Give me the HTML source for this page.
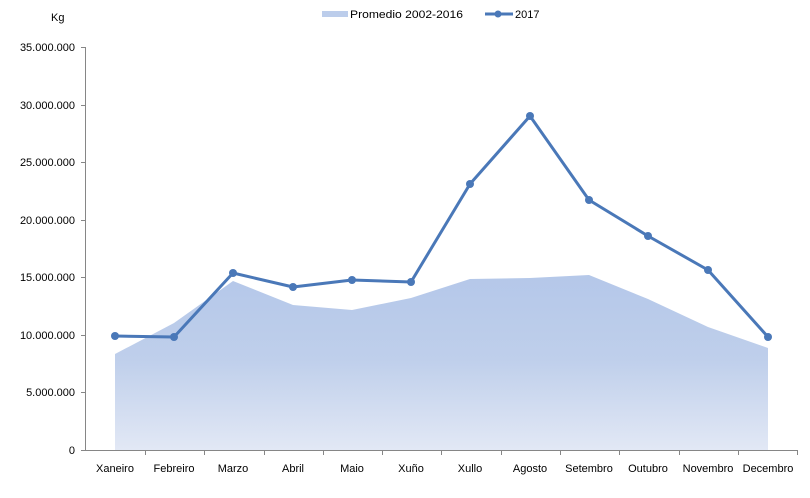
<!DOCTYPE html>
<html><head><meta charset="utf-8"><style>
body{margin:0;background:#fff}
svg text{font-family:"Liberation Sans",sans-serif;font-size:11px;fill:#000}
</style></head><body>
<svg width="810" height="493" viewBox="0 0 810 493">
<defs>
<linearGradient id="ga" x1="0" y1="270" x2="0" y2="450" gradientUnits="userSpaceOnUse">
<stop offset="0" stop-color="#b4c7e9"/><stop offset="0.5" stop-color="#bfcfeb"/><stop offset="1" stop-color="#e2e8f5"/>
</linearGradient>
</defs>
<text x="51" y="21">Kg</text>
<rect x="322" y="11" width="26" height="6" fill="#bccdeb"/>
<text x="350" y="18" textLength="113" lengthAdjust="spacingAndGlyphs">Promedio 2002-2016</text>
<line x1="485" y1="14" x2="513" y2="14" stroke="#4a78b8" stroke-width="3"/>
<circle cx="498" cy="14" r="3.5" fill="#4a78b8"/>
<text x="515" y="18">2017</text>
<polygon fill="url(#ga)" points="115,354 174,323 233,281 293,305 352,310 411,298 470,279 530,278 589,275 648,299 708,327 768,348 768,450 115,450"/>
<g stroke="#868686" stroke-width="1">
<line x1="85.5" y1="47" x2="85.5" y2="450"/>
<line x1="85" y1="450.5" x2="798" y2="450.5"/>
<line x1="81" y1="47.5" x2="85" y2="47.5"/><line x1="81" y1="105.5" x2="85" y2="105.5"/><line x1="81" y1="162.5" x2="85" y2="162.5"/><line x1="81" y1="220.5" x2="85" y2="220.5"/><line x1="81" y1="277.5" x2="85" y2="277.5"/><line x1="81" y1="335.5" x2="85" y2="335.5"/><line x1="81" y1="392.5" x2="85" y2="392.5"/><line x1="81" y1="450.5" x2="85" y2="450.5"/>
<line x1="145.5" y1="450" x2="145.5" y2="455"/><line x1="204.5" y1="450" x2="204.5" y2="455"/><line x1="264.5" y1="450" x2="264.5" y2="455"/><line x1="323.5" y1="450" x2="323.5" y2="455"/><line x1="382.5" y1="450" x2="382.5" y2="455"/><line x1="441.5" y1="450" x2="441.5" y2="455"/><line x1="501.5" y1="450" x2="501.5" y2="455"/><line x1="560.5" y1="450" x2="560.5" y2="455"/><line x1="619.5" y1="450" x2="619.5" y2="455"/><line x1="679.5" y1="450" x2="679.5" y2="455"/><line x1="738.5" y1="450" x2="738.5" y2="455"/><line x1="797.5" y1="450" x2="797.5" y2="455"/>
</g>
<g text-anchor="end">
<text x="75" y="51">35.000.000</text><text x="75" y="109">30.000.000</text><text x="75" y="166">25.000.000</text><text x="75" y="224">20.000.000</text><text x="75" y="281">15.000.000</text><text x="75" y="339">10.000.000</text><text x="75" y="396">5.000.000</text><text x="75" y="454">0</text>
</g>
<g text-anchor="middle">
<text x="115" y="472">Xaneiro</text><text x="174" y="472">Febreiro</text><text x="233" y="472">Marzo</text><text x="293" y="472">Abril</text><text x="352" y="472">Maio</text><text x="411" y="472">Xuño</text><text x="470" y="472">Xullo</text><text x="530" y="472">Agosto</text><text x="589" y="472">Setembro</text><text x="648" y="472">Outubro</text><text x="708" y="472">Novembro</text><text x="768" y="472">Decembro</text>
</g>
<polyline fill="none" stroke="#4a78b8" stroke-width="3" stroke-linejoin="round" points="115,336 174,337 233,273 293,287 352,280 411,282 470,184 530,116 589,200 648,236 708,270 768,337"/>
<g fill="#4a78b8">
<circle cx="115" cy="336" r="4"/><circle cx="174" cy="337" r="4"/><circle cx="233" cy="273" r="4"/><circle cx="293" cy="287" r="4"/><circle cx="352" cy="280" r="4"/><circle cx="411" cy="282" r="4"/><circle cx="470" cy="184" r="4"/><circle cx="530" cy="116" r="4"/><circle cx="589" cy="200" r="4"/><circle cx="648" cy="236" r="4"/><circle cx="708" cy="270" r="4"/><circle cx="768" cy="337" r="4"/>
</g>
</svg>
</body></html>
